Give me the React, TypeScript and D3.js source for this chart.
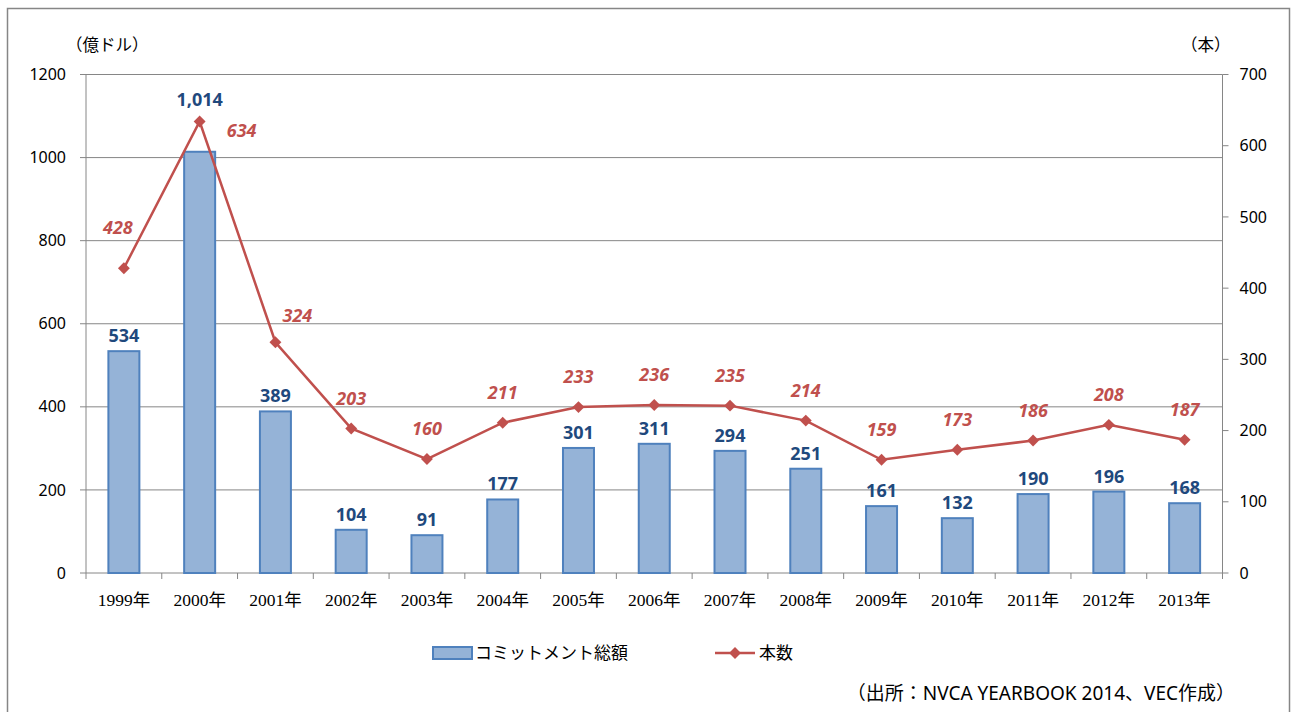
import React from 'react';
import * as d3 from 'd3';

const years = ['1999年', '2000年', '2001年', '2002年', '2003年', '2004年', '2005年', '2006年', '2007年', '2008年', '2009年', '2010年', '2011年', '2012年', '2013年'];
const commitments = [534, 1014, 389, 104, 91, 177, 301, 311, 294, 251, 161, 132, 190, 196, 168];
const fundCounts = [428, 634, 324, 203, 160, 211, 233, 236, 235, 214, 159, 173, 186, 208, 187];
const leftTicks = [0, 200, 400, 600, 800, 1000, 1200];
const rightTicks = [0, 100, 200, 300, 400, 500, 600, 700];

const SANS = '"Noto Sans", "Noto Sans CJK JP", sans-serif';
const JP = '"Noto Sans CJK JP", sans-serif';
const SERIF = '"Liberation Serif", "DejaVu Serif", "Noto Sans CJK JP", serif';

const BAR_FILL = '#95b3d7';
const BAR_STROKE = '#4f81bd';
const LINE = '#c0504d';
const GRID = '#868686';

// label offsets for the line values (dx, dy from the point)
const lineLabelOffset = (i: number): [number, number] => {
  if (i === 0) return [-6, -41];
  if (i === 1) return [42, 9];
  if (i === 2) return [22, -27];
  return [0, -30];
};

function App() {
  const width = 1292;
  const height = 712;
  const margin = { top: 74.5, right: 69.5, bottom: 139, left: 86 };
  const plotW = width - margin.left - margin.right;
  const plotH = height - margin.top - margin.bottom;

  const x = d3.scaleBand().domain(years).range([0, plotW]);
  const yL = d3.scaleLinear().domain([0, 1200]).range([plotH, 0]);
  const yR = d3.scaleLinear().domain([0, 700]).range([plotH, 0]);
  const barW = 31;

  const line = d3.line<number>()
    .x((_, i) => x(years[i])! + x.bandwidth() / 2)
    .y(d => yR(d));

  const diamond = d3.symbol().type(d3.symbolDiamond2).size(90)()!;

  // the 1,014 label sits above the line marker
  const barLabelY = (v: number, i: number) => (i === 1 ? yR(fundCounts[1]) - 16 : yL(v) - 9);

  return (
    <svg width={width} height={height} style={{ display: 'block', position: 'absolute', left: 0, top: 0 }}>
      <rect x={0} y={0} width={width} height={height} fill="#fff" />
      <rect x={7.5} y={8.5} width={1282} height={720} fill="none" stroke={GRID} strokeWidth={1.5} />

      <text x={66} y={51} style={{ fontFamily: JP }} fontSize={16.5} fill="#000">（億ドル）</text>
      <text x={1181} y={51} style={{ fontFamily: JP }} fontSize={16.5} fill="#000">（本）</text>

      <g transform={`translate(${margin.left},${margin.top})`}>
        {/* gridlines + left axis */}
        {leftTicks.map(t => (
          <g key={t}>
            <line x1={-6} x2={plotW} y1={yL(t)} y2={yL(t)} stroke={GRID} strokeWidth={1} />
            <text x={-20} y={yL(t)} dy="0.35em" textAnchor="end" style={{ fontFamily: SANS }} fontSize={16} fill="#000">{t}</text>
          </g>
        ))}
        <line x1={0} x2={0} y1={0} y2={plotH} stroke={GRID} strokeWidth={1} />
        {/* right axis */}
        <line x1={plotW} x2={plotW} y1={0} y2={plotH} stroke={GRID} strokeWidth={1} />
        {rightTicks.map(t => (
          <g key={t}>
            <line x1={plotW} x2={plotW + 6} y1={yR(t)} y2={yR(t)} stroke={GRID} strokeWidth={1} />
            <text x={plotW + 17} y={yR(t)} dy="0.35em" textAnchor="start" style={{ fontFamily: SANS }} fontSize={16} fill="#000">{t}</text>
          </g>
        ))}
        {/* x axis ticks */}
        {years.map(yr => (
          <line key={yr} x1={x(yr)!} x2={x(yr)!} y1={plotH} y2={plotH + 6} stroke={GRID} strokeWidth={1} />
        ))}
        <line x1={plotW} x2={plotW} y1={plotH} y2={plotH + 6} stroke={GRID} strokeWidth={1} />
        {years.map(yr => (
          <text key={yr} x={x(yr)! + x.bandwidth() / 2} y={plotH + 33} textAnchor="middle" style={{ fontFamily: SERIF }} fontSize={17.5} fill="#000">{yr}</text>
        ))}

        {/* bars */}
        {commitments.map((v, i) => (
          <rect key={years[i]}
            x={x(years[i])! + x.bandwidth() / 2 - barW / 2}
            y={yL(v)}
            width={barW}
            height={plotH - yL(v)}
            fill={BAR_FILL} stroke={BAR_STROKE} strokeWidth={2} />
        ))}
        {commitments.map((v, i) => (
          <text key={years[i]}
            x={x(years[i])! + x.bandwidth() / 2}
            y={barLabelY(v, i)}
            textAnchor="middle" style={{ fontFamily: SANS }} fontSize={18} fontWeight="bold" fill="#1f497d">
            {d3.format(',')(v)}
          </text>
        ))}

        {/* line */}
        <path d={line(fundCounts)!} fill="none" stroke={LINE} strokeWidth={2.5} />
        {fundCounts.map((v, i) => (
          <path key={years[i]} d={diamond}
            transform={`translate(${x(years[i])! + x.bandwidth() / 2},${yR(v)})`} fill={LINE} />
        ))}
        {fundCounts.map((v, i) => {
          const [dx, dy] = lineLabelOffset(i);
          return (
            <text key={years[i]}
              x={x(years[i])! + x.bandwidth() / 2 + dx}
              y={yR(v) + dy}
              dy="0.35em"
              textAnchor="middle" style={{ fontFamily: SANS }} fontSize={18} fontWeight="bold" fontStyle="italic" fill={LINE}>
              {v}
            </text>
          );
        })}
      </g>

      {/* legend */}
      <rect x={433} y={647} width={39} height={12} fill={BAR_FILL} stroke={BAR_STROKE} strokeWidth={2} />
      <text x={475} y={659} style={{ fontFamily: JP }} fontSize={17} fill="#000">コミットメント総額</text>
      <line x1={715} x2={755} y1={653} y2={653} stroke={LINE} strokeWidth={2.5} />
      <path d={diamond} transform="translate(735,653)" fill={LINE} />
      <text x={759} y={659} style={{ fontFamily: JP }} fontSize={17} fill="#000">本数</text>

      <text x={1235} y={700} textAnchor="end" style={{ fontFamily: SANS }} fontSize={19} fill="#000">（出所：NVCA YEARBOOK 2014、VEC作成）</text>
    </svg>
  );
}

export default App;
